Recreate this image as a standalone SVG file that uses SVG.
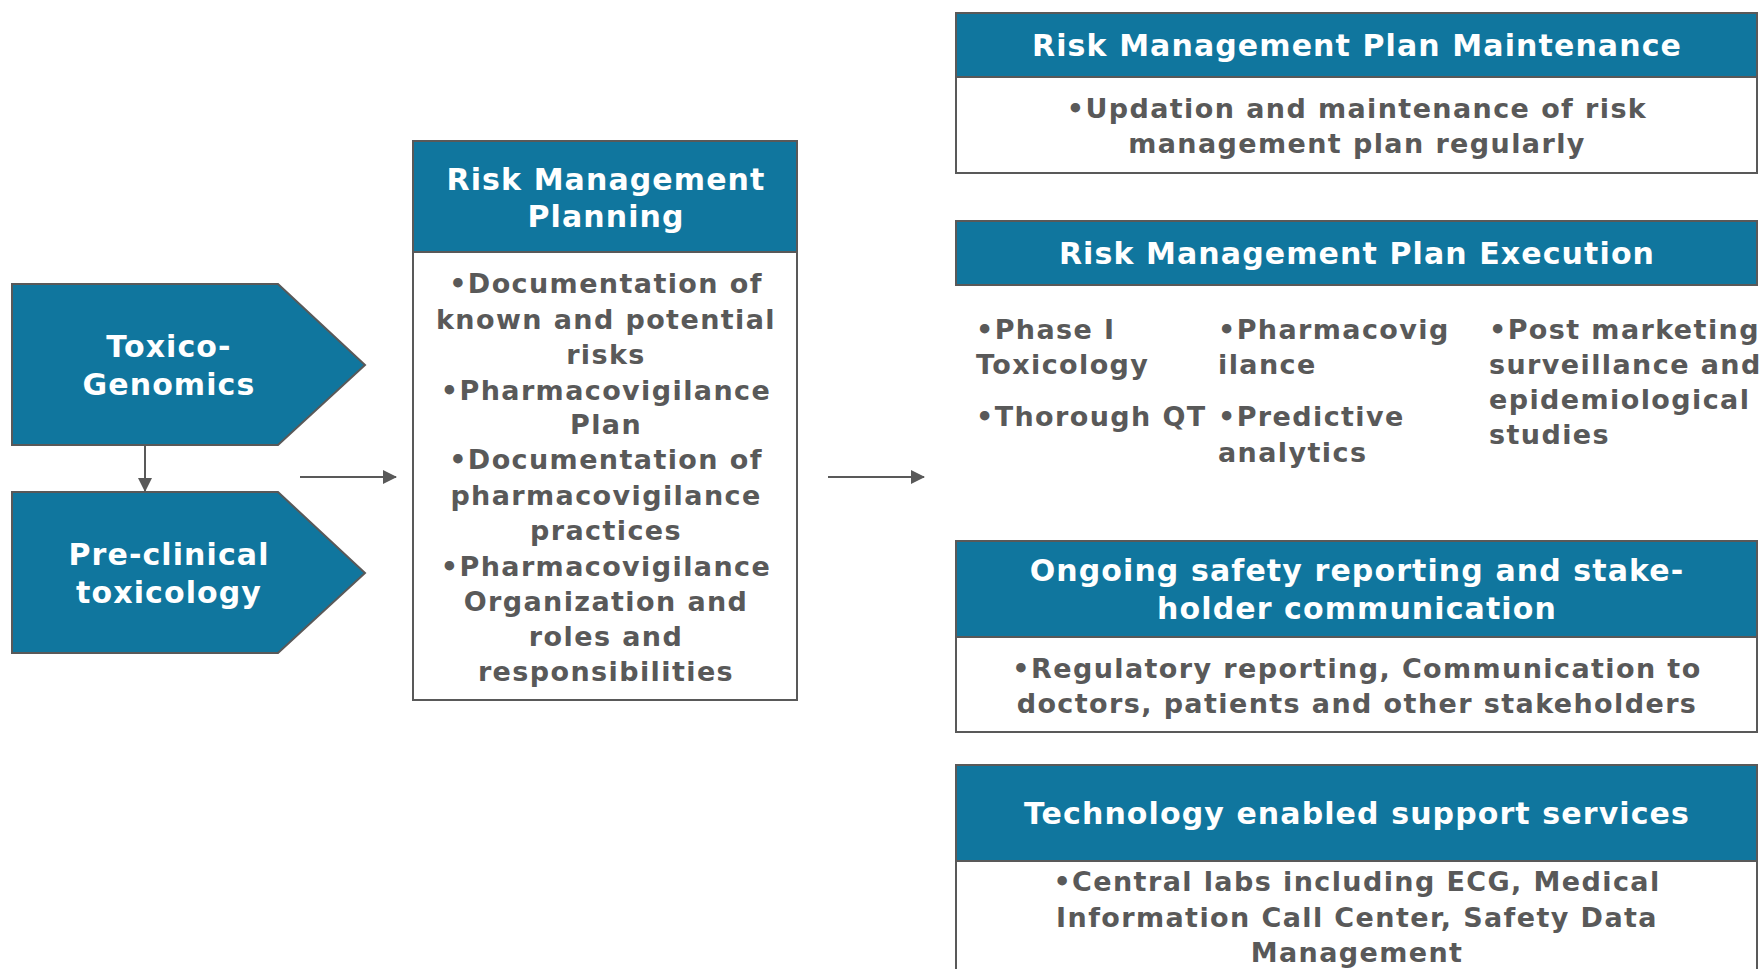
<svg xmlns="http://www.w3.org/2000/svg" width="1760" height="969" viewBox="0 0 1760 969">
<defs>
<style>
.hd{fill:#10769E;stroke:#595959;stroke-width:2}
.bd{fill:#ffffff;stroke:#595959;stroke-width:2}
.ht{font-family:"DejaVu Sans",Verdana,sans-serif;font-weight:bold;font-size:30px;fill:#ffffff;text-anchor:middle;letter-spacing:1.1px}
.bt{font-family:"DejaVu Sans",Verdana,sans-serif;font-weight:bold;font-size:27px;fill:#595959;text-anchor:middle;letter-spacing:1.4px}
.lt{text-anchor:start}
.cn{stroke:#595959;stroke-width:2;fill:none}
</style>
<marker id="ah" markerWidth="14" markerHeight="14" refX="13" refY="7" orient="auto" markerUnits="userSpaceOnUse">
<path d="M0,0 L14,7 L0,14 Z" fill="#595959"/>
</marker>
</defs>
<rect width="1760" height="969" fill="#ffffff"/>

<g id="toxicogenomics">
<path class="hd" d="M12,284 L278,284 L365,365 L278,445 L12,445 Z"/>
<text class="ht" x="169" y="357">Toxico-</text>
<text class="ht" x="169" y="395">Genomics</text>
</g>

<g id="preclinical">
<path class="hd" d="M12,492 L278,492 L365,573 L278,653 L12,653 Z"/>
<text class="ht" x="169" y="565">Pre-clinical</text>
<text class="ht" x="169" y="603">toxicology</text>
</g>

<g id="planning">
<rect class="hd" x="413" y="141" width="384" height="111"/>
<rect class="bd" x="413" y="252" width="384" height="448"/>
<text class="ht" x="606" y="190">Risk Management</text>
<text class="ht" x="606" y="227">Planning</text>
<text class="bt" x="606" y="293">•Documentation of</text>
<text class="bt" x="606" y="329">known and potential</text>
<text class="bt" x="606" y="364">risks</text>
<text class="bt" x="606" y="400">•Pharmacovigilance</text>
<text class="bt" x="606" y="434">Plan</text>
<text class="bt" x="606" y="469">•Documentation of</text>
<text class="bt" x="606" y="505">pharmacovigilance</text>
<text class="bt" x="606" y="540">practices</text>
<text class="bt" x="606" y="576">•Pharmacovigilance</text>
<text class="bt" x="606" y="611">Organization and</text>
<text class="bt" x="606" y="646">roles and</text>
<text class="bt" x="606" y="681">responsibilities</text>
</g>

<g id="maintenance">
<rect class="hd" x="956" y="13" width="801" height="64"/>
<rect class="bd" x="956" y="77" width="801" height="96"/>
<text class="ht" x="1357" y="56">Risk Management Plan Maintenance</text>
<text class="bt" x="1357" y="118">•Updation and maintenance of risk</text>
<text class="bt" x="1357" y="153">management plan regularly</text>
</g>

<g id="execution">
<rect class="hd" x="956" y="221" width="801" height="64"/>
<text class="ht" x="1357" y="264">Risk Management Plan Execution</text>
<text class="bt lt" x="976" y="339">•Phase I</text>
<text class="bt lt" x="976" y="374">Toxicology</text>
<text class="bt lt" x="976" y="426">•Thorough QT</text>
<text class="bt lt" x="1218" y="339">•Pharmacovig</text>
<text class="bt lt" x="1218" y="374">ilance</text>
<text class="bt lt" x="1218" y="426">•Predictive</text>
<text class="bt lt" x="1218" y="462">analytics</text>
<text class="bt lt" x="1489" y="339">•Post marketing</text>
<text class="bt lt" x="1489" y="374">surveillance and</text>
<text class="bt lt" x="1489" y="409">epidemiological</text>
<text class="bt lt" x="1489" y="444">studies</text>
</g>

<g id="reporting">
<rect class="hd" x="956" y="541" width="801" height="96"/>
<rect class="bd" x="956" y="637" width="801" height="95"/>
<text class="ht" x="1357" y="581">Ongoing safety reporting and stake-</text>
<text class="ht" x="1357" y="619">holder communication</text>
<text class="bt" x="1357" y="678">•Regulatory reporting, Communication to</text>
<text class="bt" x="1357" y="713">doctors, patients and other stakeholders</text>
</g>

<g id="technology">
<rect class="hd" x="956" y="765" width="801" height="96"/>
<rect class="bd" x="956" y="861" width="801" height="120"/>
<text class="ht" x="1357" y="824">Technology enabled support services</text>
<text class="bt" x="1357" y="891">•Central labs including ECG, Medical</text>
<text class="bt" x="1357" y="927">Information Call Center, Safety Data</text>
<text class="bt" x="1357" y="962">Management</text>
</g>

<g id="connectors">
<line class="cn" x1="145" y1="446" x2="145" y2="491" marker-end="url(#ah)"/>
<line class="cn" x1="300" y1="477" x2="396" y2="477" marker-end="url(#ah)"/>
<line class="cn" x1="828" y1="477" x2="924" y2="477" marker-end="url(#ah)"/>
</g>
</svg>
